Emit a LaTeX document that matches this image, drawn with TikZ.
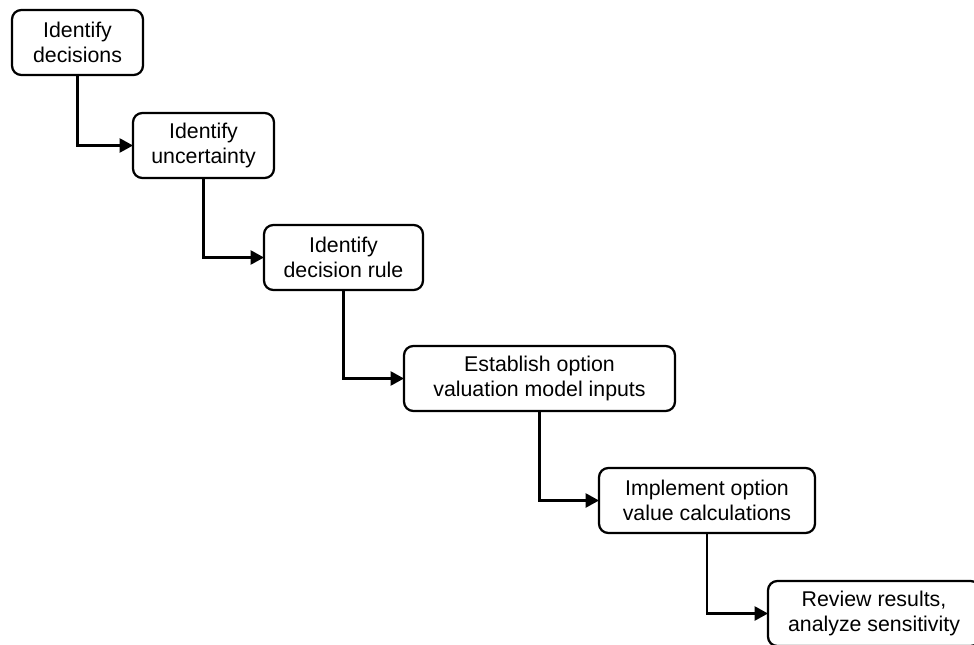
\documentclass[tikz,border=0pt]{standalone}
\usepackage{fontspec}
\setmainfont{Liberation Sans}
\usetikzlibrary{arrows.meta}

\begin{document}
\begin{tikzpicture}[
  x=0.75pt, y=-0.75pt,
  box/.style={draw, line width=1.7pt, rounded corners=7pt, align=center, inner sep=0pt, outer sep=0pt,
    font=\fontsize{16}{18.75}\selectfont, minimum height=48.75pt},
  arr/.style={-{Triangle[length=10pt, width=10.5pt]}, line width=1.7pt},
]
\useasboundingbox (0,0) rectangle (974,645);
\clip (0,0) rectangle (974,645);
\node[box, minimum width=98.25pt] (decide) at (77.5,42.5) {Identify\\decisions};
\node[box, minimum width=105.75pt] (uncert) at (203.5,145.5) {Identify\\uncertainty};
\node[box, minimum width=119.25pt] (rule) at (343.5,257.5) {Identify\\decision rule};
\node[box, minimum width=203.25pt] (inputs) at (539.5,378.5) {Establish option\\valuation model inputs};
\node[box, minimum width=162pt] (calc) at (707,500.5) {Implement option\\value calculations};
\node[box, minimum width=159pt] (review) at (874,613.5) {Review results,\\analyze sensitivity};
\draw[arr] (decide.south) |- (uncert.west);
\draw[arr] (uncert.south) |- (rule.west);
\draw[arr] (rule.south) |- (inputs.west);
\draw[arr] (inputs.south) |- (calc.west);
\draw[arr] (calc.south) |- (review.west);
\end{tikzpicture}
\end{document}
